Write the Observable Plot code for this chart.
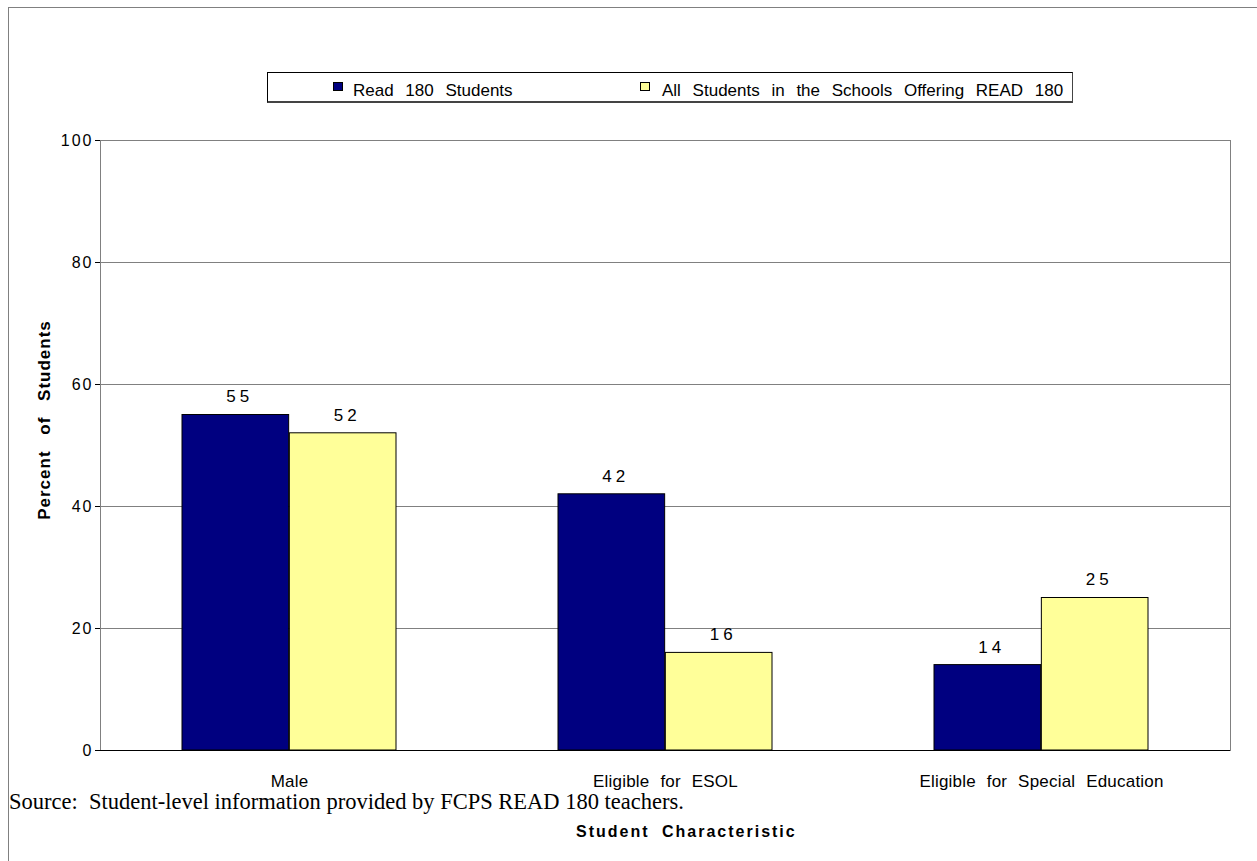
<!DOCTYPE html>
<html>
<head>
<meta charset="utf-8">
<script src="https://cdn.jsdelivr.net/npm/d3@7"></script>
<script src="https://cdn.jsdelivr.net/npm/@observablehq/plot@0.6"></script>
<style>
  html, body { margin: 0; padding: 0; background: #fff; overflow: hidden; }
  #wrap { position: relative; width: 1257px; height: 861px; overflow: hidden; background: #fff;
          font-family: "Liberation Sans", Arial, sans-serif; color: #000; }
  #outer { position: absolute; left: 8px; top: 7px; width: 1400px; height: 1000px; border: 1px solid #808080; }
  #chart { position: absolute; left: 0; top: 0; }
  #chart [aria-label^="y-axis"] text { letter-spacing: 2px; font-size: 16px; }
  #chart [aria-label^="x-axis"] text { font-size: 17px; letter-spacing: 0.2px; word-spacing: 6px; }
  #chart g[aria-label="text"] text { letter-spacing: 4px; }
  #legend { position: absolute; left: 267px; top: 72px; width: 804px; height: 28px; border: 1px solid #000;
            border-right-color: #444; border-bottom: 2px solid #444; background: #fff; }
  .sw { position: absolute; top: 9px; width: 8px; height: 7px; border: 1px solid #000; }
  .lt { position: absolute; top: 10px; font-size: 17px; line-height: 16px; word-spacing: 7px; white-space: nowrap; }
  #ytitle { position: absolute; left: 45px; top: 420px; transform: translate(-50%, -50%) rotate(-90deg);
            font-weight: bold; font-size: 17px; letter-spacing: 1px; word-spacing: 10px; white-space: nowrap; }
  #xtitle { position: absolute; left: 576px; top: 824px; font-weight: bold; font-size: 16px; line-height: 16px;
            letter-spacing: 2px; word-spacing: 6px; white-space: nowrap; }
  #source { position: absolute; left: 9px; top: 791px; font-family: "Liberation Serif", "Times New Roman", serif;
            font-size: 22.5px; line-height: 22.5px; white-space: nowrap; }
</style>
</head>
<body>
<div id="wrap">
  <div id="outer"></div>
  <div id="chart"></div>
  <div id="legend"></div>
  <div id="ytitle"></div>
  <div id="xtitle"></div>
  <div id="source"></div>
</div>
<script>
// ---- data ----
const categories = ["Male", "Eligible for ESOL", "Eligible for Special Education"];
const seriesNames = ["Read 180 Students", "All Students in the Schools Offering READ 180"];
const read180Values = [55, 42, 14];
const allStudentsValues = [52, 16, 25];
const yTicks = [0, 20, 40, 60, 80, 100];
const seriesColors = ["#000080", "#FFFF99"];
const yTitle = "Percent of Students";
const xTitle = "Student Characteristic";
const sourceText = "Source:\u00a0 Student-level information provided by FCPS READ 180 teachers.";

const readData = categories.map((c, i) => ({category: c, series: seriesNames[0], value: read180Values[i]}));
const allData = categories.map((c, i) => ({category: c, series: seriesNames[1], value: allStudentsValues[i]}));

const half = 107.35;

const chart = Plot.plot({
  width: 1257,
  height: 861,
  marginLeft: 100,
  marginRight: 27,
  marginTop: 140,
  marginBottom: 111,
  style: {fontFamily: "'Liberation Sans', Arial, sans-serif", fontSize: "16px", color: "#000", background: "transparent", overflow: "visible"},
  x: {domain: categories, paddingInner: 0.43, paddingOuter: 0.215, label: null, tickSize: 0, tickPadding: 24},
  y: {domain: [0, 100], ticks: yTicks, label: null, tickSize: 5, tickPadding: 2, line: true},
  color: {domain: seriesNames, range: seriesColors},
  marks: [
    Plot.frame({stroke: "#808080"}),
    Plot.ruleY(yTicks, {stroke: "#808080"}),
    Plot.barY(readData, {x: "category", y: "value", fill: "series", stroke: "#000", strokeWidth: 1, insetRight: half}),
    Plot.barY(allData, {x: "category", y: "value", fill: "series", stroke: "#000", strokeWidth: 1, insetLeft: half}),
    Plot.text(readData, {x: "category", y: "value", text: d => String(d.value), dx: -half / 2 + 4, dy: -18, fontSize: 17, fill: "#000"}),
    Plot.text(allData, {x: "category", y: "value", text: d => String(d.value), dx: half / 2 + 4, dy: -18, fontSize: 17, fill: "#000"}),
    Plot.ruleY([0], {stroke: "#000"})
  ]
});
document.getElementById("chart").appendChild(chart);

// legend
const legend = document.getElementById("legend");
const swLeft = [65, 372];
const txLeft = [85, 394];
seriesNames.forEach((s, i) => {
  const sw = document.createElement("div");
  sw.className = "sw";
  sw.style.left = swLeft[i] + "px";
  sw.style.background = seriesColors[i];
  legend.appendChild(sw);
  const t = document.createElement("div");
  t.className = "lt";
  t.style.left = txLeft[i] + "px";
  t.textContent = s;
  legend.appendChild(t);
});
document.getElementById("ytitle").textContent = yTitle;
document.getElementById("xtitle").textContent = xTitle;
document.getElementById("source").textContent = sourceText;
</script>
</body>
</html>
